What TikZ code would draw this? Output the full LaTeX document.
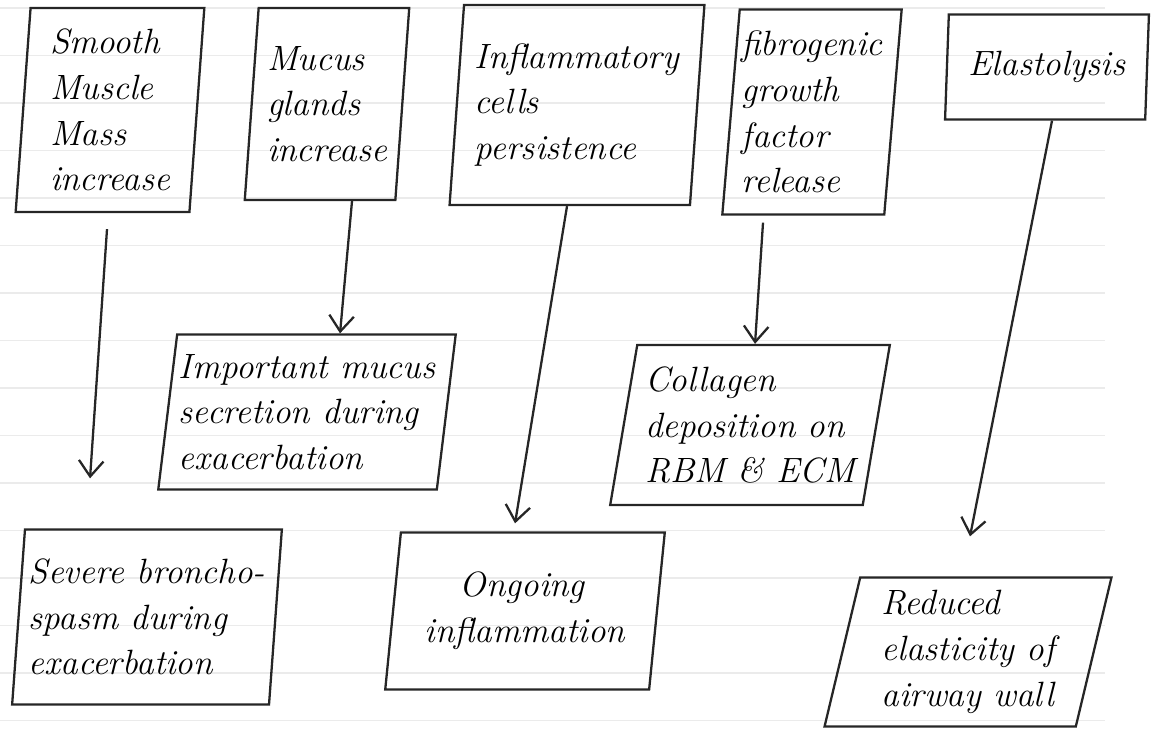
\documentclass[tikz,border=0pt]{standalone}
\usetikzlibrary{shapes.geometric,arrows.meta}
\begin{document}
\begin{tikzpicture}[x=0.02cm, y=-0.02cm,
	box/.style={draw=black!85, line width=1.3pt, trapezium, trapezium stretches=true,
		trapezium left angle=#1, trapezium right angle=180-#1, align=left, inner sep=1pt,
		font=\fontsize{20}{26}\selectfont\itshape},
	rule/.style={gray!16, line width=0.6pt},
	arrowline/.style={draw=black!85, line width=1.3pt, -{Straight Barb[length=9pt, width=14pt]}}]
	\useasboundingbox (0,0) rectangle (1169,740);
	\foreach \y in {8,55.5,...,740}
		\draw[rule] (0,\y) -- (1105,\y);
	\node[box=86, minimum width=3.8cm, minimum height=4.08cm] (smooth) at (110,110) {Smooth\\Muscle\\Mass\\increase};
	\node[box=84, minimum width=3.3cm, minimum height=3.84cm] (mucus) at (327,104) {Mucus\\glands\\increase};
	\node[box=84, minimum width=5.1cm, minimum height=4.0cm] (inflam) at (577,105) {Inflammatory\\cells\\persistence};
	\node[box=84, minimum width=3.3cm, minimum height=4.1cm] (fibro) at (812,112) {fibrogenic\\growth\\factor\\release};
	\node[box=85, minimum width=4.1cm, minimum height=2.1cm] (elasto) at (1047,67) {Elastolysis};
	\node[box=81, minimum width=5.9cm, minimum height=3.1cm] (secretion) at (307,412) {Important mucus\\secretion during\\exacerbation};
	\node[box=78, minimum width=5.6cm, minimum height=3.2cm] (collagen) at (750,425) {Collagen\\deposition on\\RBM \& ECM};
	\node[box=84, minimum width=5.4cm, minimum height=3.5cm] (spasm) at (147,617) {Severe broncho-\\spasm during\\exacerbation};
	\node[box=81, minimum width=5.6cm, minimum height=3.14cm] (ongoing) at (525,611) {\quad Ongoing\\inflammation};
	\node[box=77, minimum width=5.74cm, minimum height=2.98cm] (reduced) at (968,652) {Reduced\\elasticity of\\airway wall};
	\draw[arrowline] ([shift={(-3,16)}]smooth.south) -- ([shift={(-57,-50)}]spasm.north);
	\draw[arrowline] ([shift={(25,0)}]mucus.south) -- ([shift={(33,0)}]secretion.north);
	\draw[arrowline] ([shift={(-10,0)}]inflam.south) -- ([shift={(-10,-8)}]ongoing.north);
	\draw[arrowline] ([shift={(-49,7)}]fibro.south) -- ([shift={(5,0)}]collagen.north);
	\draw[arrowline] ([shift={(5,0)}]elasto.south) -- ([shift={(2,-40)}]reduced.north);
\end{tikzpicture}
\end{document}
